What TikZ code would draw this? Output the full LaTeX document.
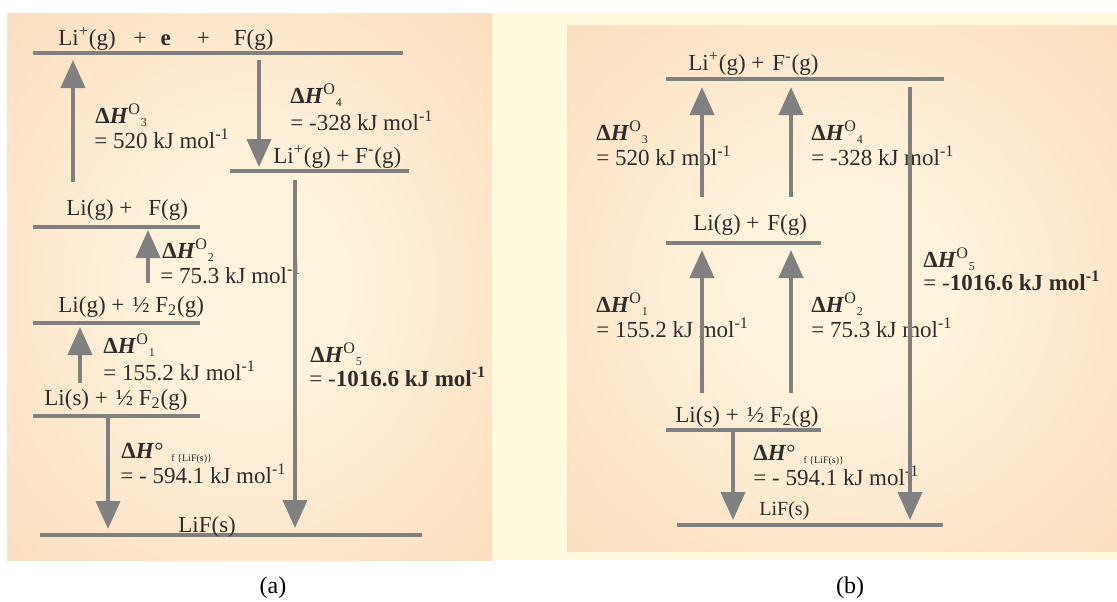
\documentclass[tikz,border=0pt]{standalone}
\usepackage{fontspec}
\setmainfont{Liberation Serif}
\usepackage{tikz}
\usetikzlibrary{arrows.meta}
\usepackage{xcolor}

\definecolor{inkgray}{RGB}{45,45,45}
\definecolor{linegray}{RGB}{128,128,128}
\definecolor{creamband}{RGB}{255,249,222}
\definecolor{glowin}{RGB}{254,243,220}
\definecolor{glowout}{RGB}{251,210,175}
\definecolor{glowedge}{RGB}{249,199,160}
\pgfdeclareradialshading{peachglow}{\pgfpoint{0bp}{0bp}}{color(0bp)=(glowin); color(10bp)=(glowin); color(50bp)=(glowout); color(72bp)=(glowedge); color(100bp)=(glowedge)}

\newcommand{\dHo}[1]{\textbf{Δ\textit{H}}\textsuperscript{O}\textsubscript{\fontsize{6}{7}\selectfont#1}}
\newcommand{\dHf}{\textbf{Δ\textit{H}}°\hspace{4pt}\raisebox{-1.5pt}{\fontsize{5}{6}\selectfont f \{LiF(s)\}}}

\begin{document}
\begin{tikzpicture}[x=0.5pt,y=0.5pt,yscale=-1,xscale=1,
    level/.style={draw=linegray,line width=2.2pt},
    enth/.style={draw=linegray,line width=2pt,-{Triangle[length=14pt,width=12pt]}},
    txt/.style={anchor=base west,inner sep=0pt,text=inkgray,font=\fontsize{11.5}{13}\selectfont},
    capt/.style={anchor=base,inner sep=0pt,text=black,font=\fontsize{12}{14}\selectfont}]
\useasboundingbox (0,0) rectangle (1117,601);

% backgrounds
\fill[creamband] (492,13) rectangle (1117,560);
\shade[shading=peachglow] (7,13) rectangle (492,560);
\shade[shading=peachglow] (567,25) rectangle (1117,551);

%%%%%%%%%%%%%%%% (a)
% level lines
\coordinate (aTopL) at (33,53);   \coordinate (aTopR) at (403,53);
\coordinate (aIonL) at (230,171); \coordinate (aIonR) at (409,171);
\coordinate (aGasL) at (33,227);  \coordinate (aGasR) at (200,227);
\coordinate (aHalfL) at (33,323); \coordinate (aHalfR) at (200,323);
\coordinate (aSolL) at (33,416);  \coordinate (aSolR) at (200,416);
\coordinate (aLiFL) at (40,535);  \coordinate (aLiFR) at (422,535);
\draw[level] (aTopL) -- (aTopR);
\draw[level] (aIonL) -- (aIonR);
\draw[level] (aGasL) -- (aGasR);
\draw[level] (aHalfL) -- (aHalfR);
\draw[level] (aSolL) -- (aSolR);
\draw[level] (aLiFL) -- (aLiFR);

% Text Node
\node[txt] (aTopTxt) at (58,45) {Li\textsuperscript{+}(g)\hspace{9pt}+\hspace{7pt}\textbf{e}\hspace{13pt}+\hspace{12pt}F(g)};
\node[txt] (aH3) at (95,123) {\dHo{3}};
\node[txt] (aH3v) at (94,148) {= 520 kJ mol\textsuperscript{-1}};
\node[txt] (aH4) at (290,103) {\dHo{4}};
\node[txt] (aH4v) at (290,130) {= -328 kJ mol\textsuperscript{-1}};
\node[txt] (aIonTxt) at (273,163) {Li\textsuperscript{+}(g) + F\textsuperscript{-}(g)};
\node[txt] (aGasTxt) at (66,215) {Li(g) +\hspace{8pt}F(g)};
\node[txt] (aH2) at (162,258) {\dHo{2}};
\node[txt] (aH2v) at (160,283) {= 75.3 kJ mol\textsuperscript{-1}};
\node[txt] (aHalfTxt) at (58,312) {Li(g) +\hspace{4pt}½ F\textsubscript{2}(g)};
\node[txt] (aH1) at (103,353) {\dHo{1}};
\node[txt] (aH1v) at (103,380) {= 155.2 kJ mol\textsuperscript{-1}};
\node[txt] (aSolTxt) at (44,405) {Li(s) +\hspace{4pt}½ F\textsubscript{2}(g)};
\node[txt] (aHf) at (121,458) {\dHf};
\node[txt] (aHfv) at (120,483) {= - 594.1 kJ mol\textsuperscript{-1}};
\node[txt] (aH5) at (310,362) {\dHo{5}};
\node[txt] (aH5v) at (309,386) {= -\textbf{1016.6 kJ mol\textsuperscript{-1}}};
\node[txt] (aLiFTxt) at (178,532) {LiF(s)};
\node[capt] (aCap) at (273,593) {(a)};

% arrows
\coordinate (a3s) at (73,182);  \coordinate (a3e) at (73,60);
\coordinate (a4s) at (259,60);  \coordinate (a4e) at (259,167);
\coordinate (a5s) at (295,180); \coordinate (a5e) at (295,528);
\coordinate (a2s) at (148,283); \coordinate (a2e) at (148,230);
\coordinate (a1s) at (80,383);  \coordinate (a1e) at (80,327);
\coordinate (afs) at (108,416); \coordinate (afe) at (108,529);
\draw[enth] (a3s) -- (a3e);
\draw[enth] (a4s) -- (a4e);
\draw[enth] (a5s) -- (a5e);
\draw[enth] (a2s) -- (a2e);
\draw[enth] (a1s) -- (a1e);
\draw[enth] (afs) -- (afe);

%%%%%%%%%%%%%%%% (b)
\coordinate (bTopL) at (666,79);  \coordinate (bTopR) at (944,79);
\coordinate (bGasL) at (666,243); \coordinate (bGasR) at (821,243);
\coordinate (bSolL) at (666,430); \coordinate (bSolR) at (821,430);
\coordinate (bLiFL) at (677,525); \coordinate (bLiFR) at (943,525);
\draw[level] (bTopL) -- (bTopR);
\draw[level] (bGasL) -- (bGasR);
\draw[level] (bSolL) -- (bSolR);
\draw[level] (bLiFL) -- (bLiFR);

% Text Node
\node[txt] (bTopTxt) at (688,70) {Li\textsuperscript{+}(g) +\hspace{4pt}F\textsuperscript{-}(g)};
\node[txt] (bH3) at (596,140) {\dHo{3}};
\node[txt] (bH3v) at (596,165) {= 520 kJ mol\textsuperscript{-1}};
\node[txt] (bH4) at (811,140) {\dHo{4}};
\node[txt] (bH4v) at (811,165) {= -328 kJ mol\textsuperscript{-1}};
\node[txt] (bGasTxt) at (693,230) {Li(g) +\hspace{4pt}F(g)};
\node[txt] (bH5) at (923,267) {\dHo{5}};
\node[txt] (bH5v) at (923,290) {= -\textbf{1016.6 kJ mol\textsuperscript{-1}}};
\node[txt] (bH1) at (596,312) {\dHo{1}};
\node[txt] (bH1v) at (596,337) {= 155.2 kJ mol\textsuperscript{-1}};
\node[txt] (bH2) at (811,312) {\dHo{2}};
\node[txt] (bH2v) at (811,337) {= 75.3 kJ mol\textsuperscript{-1}};
\node[txt] (bSolTxt) at (675,422) {Li(s) +\hspace{4pt}½ F\textsubscript{2}(g)};
\node[txt] (bHf) at (753,460) {\dHf};
\node[txt] (bHfv) at (753,485) {= - 594.1 kJ mol\textsuperscript{-1}};
\node[txt,font=\fontsize{10}{12}\selectfont] (bLiFTxt) at (759,515) {LiF(s)};
\node[capt] (bCap) at (850,593) {(b)};

% arrows
\coordinate (b3s) at (702,197); \coordinate (b3e) at (702,87);
\coordinate (b4s) at (791,197); \coordinate (b4e) at (791,87);
\coordinate (b1s) at (702,393); \coordinate (b1e) at (702,250);
\coordinate (b2s) at (791,393); \coordinate (b2e) at (791,250);
\coordinate (b5s) at (910,87);  \coordinate (b5e) at (910,520);
\coordinate (bfs) at (733,430); \coordinate (bfe) at (733,520);
\draw[enth] (b3s) -- (b3e);
\draw[enth] (b4s) -- (b4e);
\draw[enth] (b1s) -- (b1e);
\draw[enth] (b2s) -- (b2e);
\draw[enth] (b5s) -- (b5e);
\draw[enth] (bfs) -- (bfe);
\end{tikzpicture}
\end{document}
